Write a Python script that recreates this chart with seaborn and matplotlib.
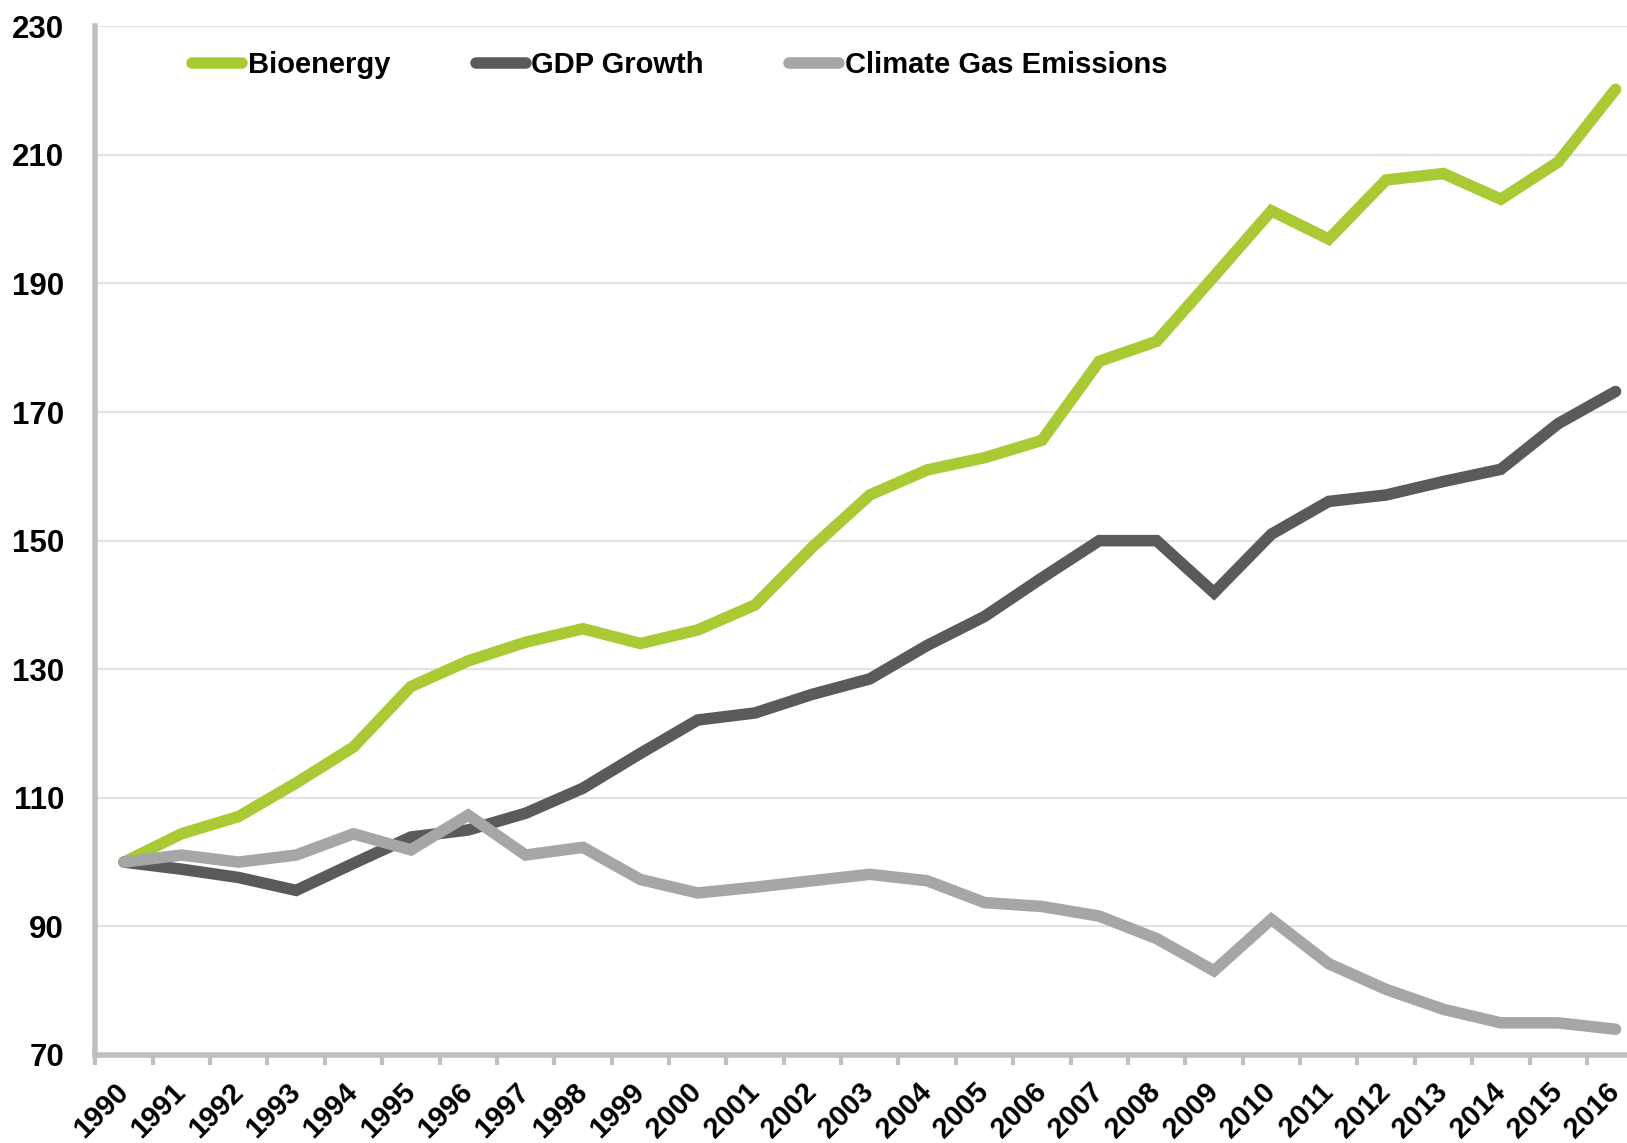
import matplotlib
matplotlib.use("Agg")
import matplotlib.pyplot as plt
import matplotlib.transforms as mtransforms
import seaborn as sns
import pandas as pd
import numpy as np

years = list(range(1990, 2017))
bioenergy = [100, 104.4, 107.1, 112.3, 117.9, 127.3, 131.3, 134.2, 136.3, 134.0,
             136.1, 140.0, 149.0, 157.1, 161.0, 162.9, 165.6, 177.9, 181.0, 191.1,
             201.3, 196.9, 206.1, 207.1, 203.1, 208.9, 220.2]
gdp_growth = [100, 98.9, 97.6, 95.6, 99.8, 103.9, 105.0, 107.6, 111.5, 116.9,
              122.1, 123.2, 126.1, 128.5, 133.7, 138.2, 144.2, 150.0, 150.0, 141.9,
              151.0, 156.1, 157.1, 159.2, 161.1, 168.2, 173.2]
emissions = [100, 101.1, 100.0, 101.1, 104.4, 101.9, 107.3, 101.1, 102.3, 97.3,
             95.2, 96.1, 97.1, 98.1, 97.1, 93.7, 93.1, 91.6, 88.1, 83.1,
             91.1, 84.2, 80.2, 77.1, 75.0, 75.0, 74.0]
series_names = ["Bioenergy", "GDP Growth", "Climate Gas Emissions"]
series_colors = ["#A9CA35", "#5A5A5A", "#A6A6A6"]
y_ticks = [70, 90, 110, 130, 150, 170, 190, 210, 230]

df = pd.DataFrame({
    "Year": years * 3,
    "Index": bioenergy + gdp_growth + emissions,
    "Series": [n for n in series_names for _ in years],
})

sns.set_theme(style="white")
plt.rcParams["font.family"] = ["Liberation Sans", "DejaVu Sans"]
plt.rcParams["font.weight"] = "bold"
plt.rcParams["text.color"] = "black"

LW = 8.3

fig = plt.figure(figsize=(16.27, 11.43), dpi=100)
ax = fig.add_axes([0.0586, 0.077, 0.952, 0.900])

sns.lineplot(data=df, x="Year", y="Index", hue="Series", hue_order=series_names,
             palette=series_colors, linewidth=LW, ax=ax, legend=True,
             solid_capstyle="round", solid_joinstyle="miter")

ax.set_xlim(1989.5, 2016.5)
ax.set_ylim(70, 230)
ax.set_yticks(y_ticks)
ax.set_yticklabels([str(t) for t in y_ticks], fontsize=22.5, fontweight="bold")
ax.set_xticks(years)
ax.set_xticklabels([str(y) for y in years], fontsize=21, fontweight="bold",
                   rotation=45, ha="right", va="top", rotation_mode="anchor")
ax.set_xticks(np.arange(1989.5, 2017, 1.0), minor=True)
ax.set_xlabel("")
ax.set_ylabel("")

ax.grid(axis="y", color="#E3E3E3", linewidth=1.5)
ax.set_axisbelow(True)

for side in ["top", "right"]:
    ax.spines[side].set_visible(False)
for side in ["left", "bottom"]:
    ax.spines[side].set_color("#BFBFBF")
    ax.spines[side].set_linewidth(4.0)

ax.tick_params(axis="y", which="major", length=7, width=3.5, color="#BFBFBF",
               pad=15.5, labelcolor="black")
ax.tick_params(axis="x", which="major", length=0, pad=14, labelcolor="black")
ax.tick_params(axis="x", which="minor", length=7, width=3, color="#BFBFBF",
               direction="out", bottom=True)

# nudge the slanted year labels so their ends sit under each category
shift = mtransforms.ScaledTranslation(-0.10, -0.03, fig.dpi_scale_trans)
for tick in ax.xaxis.get_major_ticks():
    tick.label1.set_transform(tick.label1.get_transform() + shift)

leg = ax.legend(loc="upper left", bbox_to_anchor=(0.1182, 0.9554),
                bbox_transform=fig.transFigure, ncol=3, frameon=False,
                fontsize=21, handlelength=1.71, handletextpad=0.2,
                columnspacing=2.92, borderpad=0, borderaxespad=0)
for line in leg.get_lines():
    line.set_linewidth(LW)
    line.set_solid_capstyle("round")
for txt in leg.get_texts():
    txt.set_fontweight("bold")
    txt.set_color("black")

fig.savefig("out.png", dpi=100)
